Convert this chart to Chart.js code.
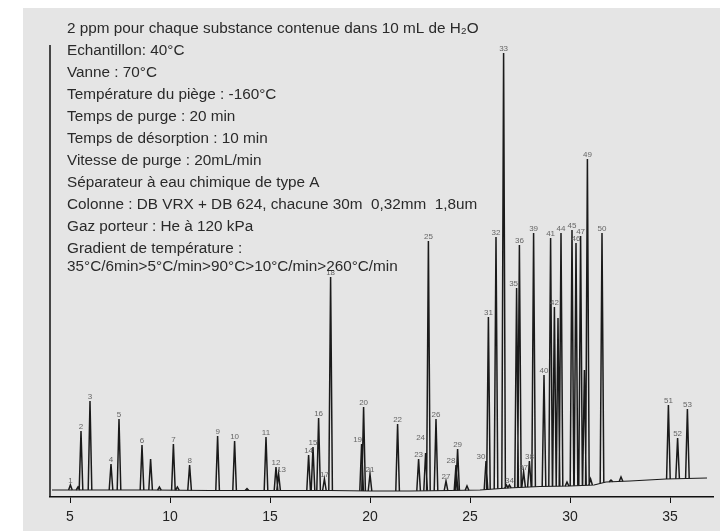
<!DOCTYPE html>
<html>
<head>
<meta charset="utf-8">
<script src="https://cdn.jsdelivr.net/npm/chart.js@4/dist/chart.umd.min.js"></script>
<style>
  html, body { margin: 0; padding: 0; background: #fff; }
  #wrap { width: 728px; height: 531px; position: relative; }
</style>
</head>
<body>
<div id="wrap"><canvas id="chrom" width="728" height="531"></canvas></div>
<script>
// ---- conditions (text block) ----
const INFO_LINES = [
  '2 ppm pour chaque substance contenue dans 10 mL de H₂O',
  'Echantillon: 40°C',
  'Vanne : 70°C',
  'Température du piège : -160°C',
  'Temps de purge : 20 min',
  'Temps de désorption : 10 min',
  'Vitesse de purge : 20mL/min',
  'Séparateur à eau chimique de type A',
  'Colonne : DB VRX + DB 624, chacune 30m  0,32mm  1,8um',
  'Gaz porteur : He à 120 kPa',
  'Gradient de température :',
  '35°C/6min>5°C/min>90°C>10°C/min>260°C/min'
];

// ---- axis ----
const X_TICKS = [5, 10, 15, 20, 25, 30, 35];

// ---- baseline (min, signal) ----
const BASE_TIMES  = [4.1, 6.5, 9, 12, 15, 18, 20, 22, 24, 25.5, 26.9, 28.5, 30, 31.2, 31.8, 33, 34.8, 36.85];
const BASE_VALUES = [0, 0, 0, -0.5, -0.5, -0.5, -1, -1, -0.5, 0, 2, 3.5, 4, 5, 8, 9, 11, 12];

// ---- peaks (retention time in min, apex signal, label) ----
const PEAK_TIMES = [
  5.02, 5.4, 5.55, 6.0, 7.05, 7.45, 8.6, 9.03, 9.47, 10.17, 10.37, 10.98,
  12.38, 13.23, 13.85, 14.8, 15.3, 15.43, 16.93, 17.15, 17.43, 17.72, 18.03,
  19.58, 19.68, 20.0, 21.38, 22.43, 22.78, 22.92, 23.3, 23.8, 24.3, 24.38, 24.85,
  25.8, 25.92, 26.3, 26.68, 26.82, 26.97, 27.33, 27.47, 27.68, 27.97, 28.18,
  28.7, 29.03, 29.22, 29.4, 29.55, 29.85, 30.1, 30.3, 30.53, 30.72, 30.87,
  31.03, 31.6, 32.05, 32.55, 34.92, 35.38, 35.87
];
const PEAK_HEIGHTS = [
  5, 3, 59, 89, 26, 71, 45, 31, 3, 46, 3, 25,
  54, 49, 1.5, 53, 23, 16, 35, 43, 72, 11, 213,
  46, 83, 16, 66, 31, 37, 249, 71, 9, 25, 41, 4,
  29, 173, 253, 437, 5, 5, 202, 245, 18, 29, 257,
  115, 252, 183, 172, 257, 8, 260, 247, 254, 120, 331,
  11, 257, 10, 13, 85, 52, 81
];
const PEAK_LABELS = [
  '1', '', '2', '3', '4', '5', '6', '', '', '7', '', '8',
  '9', '10', '', '11', '12', '13', '14', '15', '16', '17', '18',
  '19', '20', '21', '22', '23', '24', '25', '26', '27', '28', '29', '',
  '30', '31', '32', '33', '', '34', '35', '36', '37', '38', '39',
  '40', '41', '42', '', '44', '', '45', '46', '47', '', '49',
  '', '50', '', '', '51', '52', '53'
];

const PEAK_HALF_WIDTH = 0.09;   // min
const LABEL_NUDGE = { '13': [3, 0], '19': [-4, 0], '24': [-5, -11], '28': [-5, 0], '30': [-5, 0], '35': [-3, 0] };

function baseAt(t) {
  // signal baseline under a peak, read between the listed baseline points
  for (let i = 1; i < BASE_TIMES.length; i++) {
    if (t <= BASE_TIMES[i]) {
      const f = (t - BASE_TIMES[i - 1]) / (BASE_TIMES[i] - BASE_TIMES[i - 1]);
      return BASE_VALUES[i - 1] + f * (BASE_VALUES[i] - BASE_VALUES[i - 1]);
    }
  }
  return BASE_VALUES[BASE_VALUES.length - 1];
}

const baseData = BASE_TIMES.map((t, i) => ({ x: t, y: BASE_VALUES[i] }));
const peakData = [];
PEAK_TIMES.forEach((t, i) => {
  peakData.push({ x: t - PEAK_HALF_WIDTH, y: baseAt(t - PEAK_HALF_WIDTH) });
  peakData.push({ x: t, y: PEAK_HEIGHTS[i] });
  peakData.push({ x: t + PEAK_HALF_WIDTH, y: baseAt(t + PEAK_HALF_WIDTH) });
  peakData.push({ x: t + PEAK_HALF_WIDTH + 0.001, y: null });
});

const decor = {
  id: 'decor',
  beforeDraw(chart) {
    const c = chart.ctx;
    c.save();
    c.fillStyle = '#e5e5e5';
    c.fillRect(23, 8, 697, 523);
    c.restore();
  },
  afterDraw(chart) {
    const c = chart.ctx, a = chart.chartArea;
    const xs = chart.scales.x, ys = chart.scales.y;
    c.save();
    // y axis line
    c.strokeStyle = '#111';
    c.lineWidth = 1.5;
    c.beginPath();
    c.moveTo(a.left, a.top);
    c.lineTo(a.left, a.bottom);
    c.stroke();

    // peak numbers
    c.fillStyle = '#666';
    c.font = '8px "Liberation Sans", Arial, sans-serif';
    c.textAlign = 'center';
    c.textBaseline = 'alphabetic';
    PEAK_LABELS.forEach((lab, i) => {
      if (!lab) return;
      const n = LABEL_NUDGE[lab] || [0, 0];
      const px = xs.getPixelForValue(PEAK_TIMES[i]) + n[0];
      const py = ys.getPixelForValue(PEAK_HEIGHTS[i]) - 2 + n[1];
      c.fillText(lab, px, py);
    });

    // conditions text
    c.fillStyle = '#2a2a2a';
    c.font = '15.3px "Liberation Sans", Arial, sans-serif';
    c.textAlign = 'left';
    c.textBaseline = 'middle';
    INFO_LINES.forEach((line, i) => {
      const y = i < 11 ? 29 + i * 22 : 249 + 18;
      c.fillText(line, 67, y);
    });
    c.restore();
  }
};

new Chart(document.getElementById('chrom'), {
  type: 'line',
  data: {
    datasets: [
      { data: baseData, borderColor: '#1a1a1a', borderWidth: 1.2, pointRadius: 0, tension: 0 },
      { data: peakData, borderColor: '#1a1a1a', borderWidth: 1.5, pointRadius: 0, tension: 0, spanGaps: false }
    ]
  },
  options: {
    responsive: false,
    animation: false,
    events: [],
    layout: { padding: { left: 50, top: 45, right: 15, bottom: 0 } },
    plugins: { legend: { display: false }, tooltip: { enabled: false } },
    scales: {
      x: {
        type: 'linear',
        min: 4,
        max: 37.15,
        afterBuildTicks: (s) => { s.ticks = X_TICKS.map(v => ({ value: v })); },
        afterFit: (s) => { s.height = 34; },
        border: { display: true, color: '#111', width: 1.5 },
        grid: { display: true, drawOnChartArea: false, drawTicks: true, tickLength: 6, color: '#111', lineWidth: 1 },
        ticks: { color: '#222', font: { family: '"Liberation Sans", Arial, sans-serif', size: 14 }, padding: 6, maxRotation: 0 }
      },
      y: {
        display: false,
        min: -7,
        max: 445
      }
    }
  },
  plugins: [decor]
});
</script>
</body>
</html>
